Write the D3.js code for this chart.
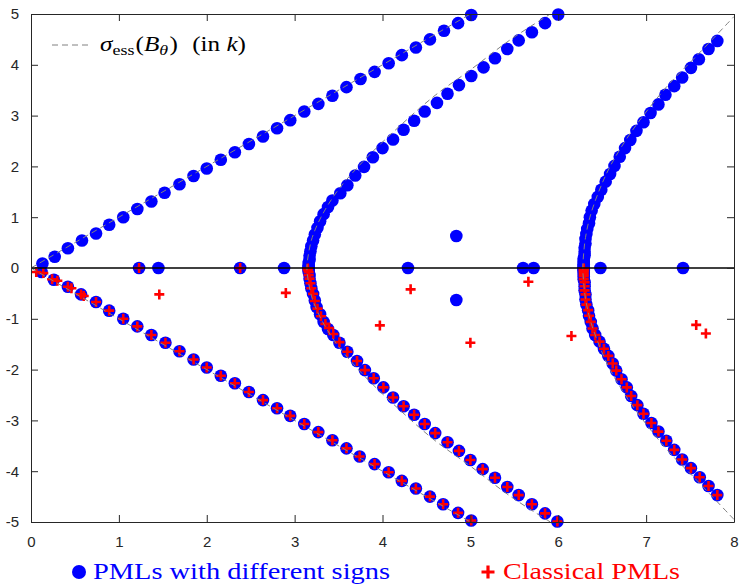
<!DOCTYPE html>
<html>
<head>
<meta charset="utf-8">
<script src="https://cdn.jsdelivr.net/npm/d3@7"></script>
<style>
  html, body { margin: 0; padding: 0; background: #fff; }
  svg { display: block; }
</style>
</head>
<body>
<svg id="chart" width="739" height="584"></svg>
<script>
// Axis ticks
const xTicks = [0, 1, 2, 3, 4, 5, 6, 7, 8];
const yTicks = [-5, -4, -3, -2, -1, 0, 1, 2, 3, 4, 5];

// Eigenvalues, PMLs with different signs (blue dots)
const blueBranch1Up = [[0.13,0.09],[0.27,0.22],[0.42,0.39],[0.58,0.54],[0.74,0.68],[0.89,0.85],[1.05,1.00],[1.21,1.16],[1.37,1.31],[1.52,1.48],[1.69,1.65],[1.85,1.81],[2.00,1.96],[2.16,2.13],[2.32,2.28],[2.48,2.44],[2.64,2.59],[2.80,2.75],[2.95,2.91],[3.11,3.08],[3.27,3.23],[3.43,3.39],[3.59,3.56],[3.75,3.72],[3.91,3.86],[4.07,4.03],[4.22,4.19],[4.38,4.34],[4.54,4.50],[4.70,4.67],[4.86,4.82],[5.01,4.98]];
const blueBranch1Down = [[0.12,-0.08],[0.26,-0.23],[0.42,-0.37],[0.57,-0.52],[0.74,-0.67],[0.89,-0.84],[1.05,-1.00],[1.21,-1.15],[1.37,-1.32],[1.53,-1.47],[1.69,-1.64],[1.85,-1.80],[2.00,-1.96],[2.16,-2.12],[2.32,-2.27],[2.48,-2.44],[2.64,-2.60],[2.80,-2.76],[2.95,-2.91],[3.11,-3.07],[3.27,-3.23],[3.43,-3.39],[3.59,-3.55],[3.74,-3.71],[3.91,-3.86],[4.07,-4.02],[4.22,-4.19],[4.38,-4.34],[4.54,-4.50],[4.69,-4.65],[4.86,-4.82],[5.01,-4.97]];
const blueBranch2Up = [[3.16,0.005],[3.16,0.02],[3.16,0.05],[3.16,0.10],[3.17,0.16],[3.17,0.24],[3.18,0.33],[3.19,0.43],[3.21,0.54],[3.23,0.66],[3.26,0.79],[3.29,0.92],[3.33,1.06],[3.38,1.20],[3.43,1.33],[3.52,1.47],[3.60,1.63],[3.69,1.82],[3.79,1.99],[3.89,2.18],[4.00,2.36],[4.12,2.53],[4.24,2.72],[4.36,2.90],[4.48,3.08],[4.62,3.25],[4.74,3.43],[4.87,3.60],[5.01,3.78],[5.15,3.95],[5.28,4.13],[5.42,4.31],[5.55,4.48],[5.70,4.64],[5.85,4.82],[6.00,4.99]];
const blueBranch2Down = [[3.16,-0.01],[3.16,-0.04],[3.16,-0.08],[3.17,-0.14],[3.17,-0.21],[3.18,-0.30],[3.19,-0.40],[3.21,-0.51],[3.23,-0.64],[3.25,-0.77],[3.29,-0.91],[3.33,-1.06],[3.38,-1.20],[3.44,-1.32],[3.51,-1.47],[3.60,-1.65],[3.71,-1.83],[3.80,-2.01],[3.90,-2.17],[4.01,-2.35],[4.12,-2.55],[4.24,-2.72],[4.36,-2.89],[4.48,-3.07],[4.60,-3.25],[4.74,-3.43],[4.87,-3.60],[5.00,-3.78],[5.14,-3.96],[5.28,-4.13],[5.42,-4.31],[5.55,-4.47],[5.70,-4.65],[5.85,-4.83],[5.99,-4.99]];
const blueBranch3Up = [[6.29,0.005],[6.29,0.02],[6.29,0.04],[6.29,0.07],[6.29,0.10],[6.29,0.14],[6.29,0.19],[6.30,0.25],[6.30,0.32],[6.30,0.40],[6.31,0.48],[6.31,0.57],[6.32,0.67],[6.33,0.77],[6.35,0.88],[6.36,1.00],[6.38,1.13],[6.41,1.26],[6.45,1.40],[6.49,1.54],[6.54,1.70],[6.59,1.85],[6.64,2.01],[6.70,2.19],[6.76,2.36],[6.82,2.52],[6.89,2.70],[6.97,2.87],[7.05,3.05],[7.14,3.22],[7.22,3.41],[7.32,3.58],[7.41,3.75],[7.51,3.94],[7.60,4.11],[7.71,4.31],[7.81,4.47]];
const blueBranch3Down = [[6.29,-0.01],[6.29,-0.03],[6.29,-0.05],[6.29,-0.08],[6.29,-0.12],[6.29,-0.16],[6.29,-0.22],[6.30,-0.28],[6.30,-0.36],[6.30,-0.44],[6.31,-0.52],[6.31,-0.62],[6.32,-0.72],[6.34,-0.83],[6.35,-0.94],[6.37,-1.06],[6.39,-1.19],[6.42,-1.32],[6.47,-1.45],[6.52,-1.59],[6.57,-1.73],[6.62,-1.88],[6.66,-2.02],[6.72,-2.19],[6.78,-2.35],[6.83,-2.52],[6.90,-2.70],[6.97,-2.87],[7.06,-3.05],[7.14,-3.22],[7.23,-3.40],[7.32,-3.58],[7.41,-3.77],[7.51,-3.94],[7.61,-4.12],[7.71,-4.29],[7.81,-4.47]];
const blueIsolated = [[1.23,0],[1.45,0],[2.38,0],[2.88,0],[4.29,0],[4.84,0.63],[4.84,-0.63],[5.60,0],[5.72,0],[6.48,0],[7.42,0]];

// Eigenvalues, classical PMLs (red crosses)
const redBranch1 = [[0.06,-0.08],[0.14,-0.10],[0.24,-0.22],[0.30,-0.25],[0.42,-0.37],[0.46,-0.40],[0.57,-0.52],[0.60,-0.55],[0.74,-0.67],[0.89,-0.84],[1.05,-1.00],[1.21,-1.15],[1.37,-1.32],[1.53,-1.47],[1.69,-1.64],[1.85,-1.80],[2.00,-1.96],[2.16,-2.12],[2.32,-2.27],[2.48,-2.44],[2.64,-2.60],[2.80,-2.76],[2.95,-2.91],[3.11,-3.07],[3.27,-3.23],[3.43,-3.39],[3.59,-3.55],[3.74,-3.71],[3.91,-3.86],[4.07,-4.02],[4.22,-4.19],[4.38,-4.34],[4.54,-4.50],[4.69,-4.65],[4.86,-4.82],[5.01,-4.97]];
const redBranch2 = [[3.15,-0.01],[3.15,-0.04],[3.16,-0.08],[3.16,-0.14],[3.17,-0.21],[3.18,-0.30],[3.19,-0.40],[3.21,-0.51],[3.23,-0.65],[3.26,-0.80],[3.30,-0.95],[3.35,-1.10],[3.39,-1.18],[3.44,-1.30],[3.51,-1.46],[3.60,-1.65],[3.71,-1.83],[3.80,-2.01],[3.90,-2.17],[4.01,-2.35],[4.12,-2.55],[4.24,-2.72],[4.36,-2.89],[4.48,-3.07],[4.60,-3.25],[4.74,-3.43],[4.87,-3.60],[5.00,-3.78],[5.14,-3.96],[5.28,-4.13],[5.42,-4.31],[5.55,-4.47],[5.70,-4.65],[5.85,-4.83],[5.99,-4.99]];
const redBranch3 = [[6.29,-0.01],[6.29,-0.03],[6.29,-0.05],[6.29,-0.08],[6.29,-0.12],[6.29,-0.16],[6.29,-0.22],[6.30,-0.28],[6.30,-0.36],[6.30,-0.44],[6.31,-0.52],[6.31,-0.62],[6.32,-0.72],[6.34,-0.83],[6.35,-0.94],[6.37,-1.06],[6.39,-1.19],[6.42,-1.32],[6.47,-1.45],[6.52,-1.59],[6.57,-1.73],[6.62,-1.88],[6.66,-2.02],[6.72,-2.19],[6.78,-2.35],[6.83,-2.52],[6.90,-2.70],[6.97,-2.87],[7.06,-3.05],[7.14,-3.22],[7.23,-3.40],[7.32,-3.58],[7.41,-3.77],[7.51,-3.94],[7.61,-4.12],[7.71,-4.29],[7.81,-4.47]];
const redIsolated = [[1.23,0],[2.38,0],[1.46,-0.52],[2.90,-0.49],[4.32,-0.42],[3.97,-1.13],[5.00,-1.47],[5.66,-0.27],[6.15,-1.34],[7.57,-1.12],[7.68,-1.29]];

// Essential spectrum curves (dashed): two rays from the origin, then two hyperbolas
const essRays = [[[0,0],[5.05,5.05]], [[0,0],[5.05,-5.05]]];
const essCurve2 = [[5.91,-5.0],[5.46,-4.5],[5.0,-3.9],[4.6,-3.4],[4.2,-2.8],[3.78,-2.1],[3.48,-1.5],[3.3,-1.0],[3.2,-0.6],[3.16,-0.3],[3.14,0],[3.16,0.3],[3.2,0.6],[3.3,1.0],[3.48,1.5],[3.78,2.1],[4.2,2.8],[4.6,3.4],[5.0,3.9],[5.46,4.5],[5.91,5.0]];
const essCurve3 = [[8.0,-4.95],[7.56,-4.15],[7.25,-3.6],[6.99,-3.05],[6.8,-2.6],[6.59,-2.0],[6.46,-1.5],[6.36,-1.0],[6.31,-0.6],[6.29,-0.3],[6.28,0],[6.29,0.3],[6.31,0.6],[6.36,1.0],[6.46,1.5],[6.59,2.0],[6.8,2.6],[6.99,3.05],[7.25,3.6],[7.56,4.15],[8.0,4.95]];

const svg = d3.select("#chart");
const plot = { left: 31, right: 734, top: 14, bottom: 522 };
const axisColor = "#262626";
const blue = "#0000ff", red = "#ff0000", gray = "#808080";

const x = d3.scaleLinear().domain([0, 8]).range([plot.left, plot.right]);
const y = d3.scaleLinear().domain([-5, 5]).range([plot.bottom, plot.top]);

svg.append("defs").append("clipPath").attr("id", "plotClip")
  .append("rect")
  .attr("x", plot.left).attr("y", plot.top)
  .attr("width", plot.right - plot.left).attr("height", plot.bottom - plot.top);

const marks = svg.append("g");

// Blue dots
const bluePts = [].concat(blueBranch1Up, blueBranch1Down, blueBranch2Up, blueBranch2Down,
                          blueBranch3Up, blueBranch3Down, blueIsolated);
marks.append("g").selectAll("circle").data(bluePts).join("circle")
  .attr("cx", d => x(d[0])).attr("cy", d => y(d[1]))
  .attr("r", 6.3).attr("fill", blue);

// Red crosses
const redPts = [].concat(redBranch1, redBranch2, redBranch3, redIsolated);
const cross = (s) => `M${-s},0H${s}M0,${-s}V${s}`;
marks.append("g").selectAll("path").data(redPts).join("path")
  .attr("transform", d => `translate(${x(d[0])},${y(d[1])})`)
  .attr("d", cross(5))
  .attr("stroke", red).attr("stroke-width", 2.6).attr("fill", "none");

// Dashed essential spectrum
const ess = svg.append("g").attr("clip-path", "url(#plotClip)");
const straight = d3.line().x(d => x(d[0])).y(d => y(d[1]));
const smooth = d3.line().x(d => x(d[0])).y(d => y(d[1])).curve(d3.curveCatmullRom.alpha(0.5));
const dashed = sel => sel.attr("fill", "none").attr("stroke", gray)
  .attr("stroke-width", 1).attr("stroke-dasharray", "6,4");
essRays.forEach(r => ess.append("path").attr("d", straight(r)).call(dashed));
[essCurve2, essCurve3].forEach(c => ess.append("path").attr("d", smooth(c)).call(dashed));

// Real axis line
svg.append("line")
  .attr("x1", x(0)).attr("x2", x(8)).attr("y1", y(0)).attr("y2", y(0))
  .attr("stroke", "#000").attr("stroke-width", 1.3);

// Axes with inward ticks on all four sides
const tickLen = 7;
const fmt = d => String(d);
const axes = svg.append("g");
axes.append("g").attr("transform", `translate(0,${plot.bottom})`)
  .call(d3.axisBottom(x).tickValues(xTicks).tickFormat(fmt).tickSize(-tickLen).tickPadding(tickLen + 7).tickSizeOuter(0));
axes.append("g").attr("transform", `translate(0,${plot.top})`)
  .call(d3.axisTop(x).tickValues(xTicks).tickSize(-tickLen).tickFormat("").tickSizeOuter(0));
axes.append("g").attr("transform", `translate(${plot.left},0)`)
  .call(d3.axisLeft(y).tickValues(yTicks).tickFormat(fmt).tickSize(-tickLen).tickPadding(tickLen + 5).tickSizeOuter(0));
axes.append("g").attr("transform", `translate(${plot.right},0)`)
  .call(d3.axisRight(y).tickValues(yTicks).tickSize(-tickLen).tickFormat("").tickSizeOuter(0));
axes.selectAll("path.domain").attr("stroke", axisColor).attr("stroke-width", 1);
axes.selectAll(".tick line").attr("stroke", axisColor).attr("stroke-width", 1);
axes.selectAll(".tick text")
  .attr("fill", axisColor)
  .style("font-family", "'Liberation Sans', Arial, sans-serif")
  .style("font-size", "15px");

// Inner legend for the dashed curve
const serif = "'Liberation Serif', 'Times New Roman', serif";
svg.append("line")
  .attr("x1", 52).attr("x2", 90).attr("y1", 45).attr("y2", 45)
  .attr("stroke", gray).attr("stroke-width", 1).attr("stroke-dasharray", "6,4");
const lt = svg.append("text").attr("x", 100).attr("y", 51)
  .attr("textLength", 146).attr("lengthAdjust", "spacingAndGlyphs")
  .style("font-family", serif).style("font-size", "21px").attr("fill", "#000");
lt.append("tspan").style("font-style", "italic").text("σ");
lt.append("tspan").attr("dy", 4).style("font-size", "15px").text("ess");
lt.append("tspan").attr("dy", -4).attr("dx", 1).text("(");
lt.append("tspan").style("font-style", "italic").text("B");
lt.append("tspan").attr("dy", 4).style("font-size", "15px").style("font-style", "italic").text("θ");
lt.append("tspan").attr("dy", -4).attr("dx", 1).text(")");
lt.append("tspan").attr("dx", 12).text("(in ");
lt.append("tspan").style("font-style", "italic").text("k");
lt.append("tspan").text(")");

// Bottom legend
svg.append("circle").attr("cx", 79).attr("cy", 572).attr("r", 7).attr("fill", blue);
svg.append("text").attr("x", 93).attr("y", 579)
  .attr("textLength", 297).attr("lengthAdjust", "spacingAndGlyphs")
  .style("font-family", serif).style("font-size", "23px").attr("fill", blue)
  .text("PMLs with different signs");
svg.append("path").attr("transform", "translate(488,572)").attr("d", cross(6.5))
  .attr("stroke", red).attr("stroke-width", 3.2).attr("fill", "none");
svg.append("text").attr("x", 503).attr("y", 579)
  .attr("textLength", 177).attr("lengthAdjust", "spacingAndGlyphs")
  .style("font-family", serif).style("font-size", "23px").attr("fill", red)
  .text("Classical PMLs");
</script>
</body>
</html>
